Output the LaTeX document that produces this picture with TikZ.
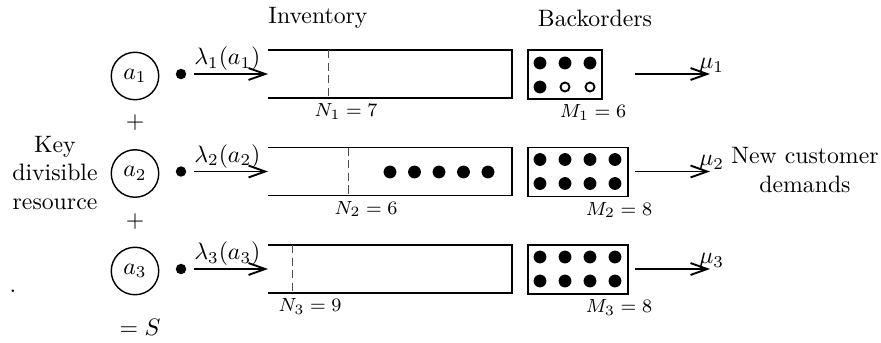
\documentclass[tikz,border=0pt]{standalone}
\usepackage{amsmath,amssymb}
\usetikzlibrary{arrows.meta}

\begin{document}
\begin{tikzpicture}[x=0.0148cm, y=-0.0148cm,
  res/.style={circle, draw, semithick, minimum size=20pt, inner sep=0pt},
  src/.style={circle, fill, inner sep=0pt, minimum size=4.4pt},
  flow/.style={-{Straight Barb[length=7pt,width=5pt]}, thick},
  lbl/.style={font=\footnotesize, inner sep=1pt}]
  \useasboundingbox (0,0) rectangle (881,342);

  % headings
  \node (inv) at (318,18) {Inventory};
  \node (bo) at (595,18) {Backorders};
  \node[align=center] (key) at (55,173) {Key\\divisible\\resource};
  \node[align=center] (new) at (805,170) {New customer\\demands};

  % resource split
  \node[res] (a1) at (135,76) {$a_1$};
  \node[res] (a2) at (135,173.5) {$a_2$};
  \node[res] (a3) at (135,271) {$a_3$};
  \node (p1) at (135,123) {$+$};
  \node (p2) at (135,222) {$+$};
  \node (sum) at (140,327) {$=S$};
  \node (dot) at (13,291) {.};

  % the three lines
  \foreach \i/\y/\n/\dx/\m/\bx in {1/74/7/328/6/602, 2/171.5/6/348/8/628, 3/269/9/292/8/628} {
    \node[src] (s\i) at (181,\y) {};
    \coordinate (in\i) at (268,\y);
    \draw[flow, shorten <=3pt] (s\i) -- node[above, inner sep=1pt] {$\lambda_{\i}(a_{\i})$} (in\i);
    \draw[thick] (268,\y-24) -| (512,\y+24) -- (268,\y+24);
    \draw[thin, black!70, dash pattern=on 3.5pt off 1.8pt] (\dx,\y-24) -- (\dx,\y+24);
    \node[lbl, below] (n\i) at (\dx+18,\y+27) {$N_{\i}=\n$};
    \draw[thick] (528,\y-24) rectangle (\bx,\y+25);
    \node[lbl, below] (m\i) at (\bx-9,\y+28) {$M_{\i}=\m$};
    \coordinate (d\i) at (635,\y);
    \coordinate (e\i) at (710,\y);
    \draw[flow] (d\i) -- (e\i) node[anchor=south west, inner sep=0pt, xshift=-5pt] (mu\i) {$\mu_{\i}$};
  }

  % units on hand
  \foreach \x in {390,414.5,439,463.5,488}
    \fill (\x,172) circle (2.7pt);

  % waiting orders
  \foreach \x in {540,565,590}
    \fill (\x,63) circle (2.7pt);
  \fill (540,87) circle (2.7pt);
  \draw[thick] (565,87) circle (1.9pt) (590,87) circle (1.9pt);
  \foreach \y in {171.5,269}
    \foreach \x in {540,565,590,615} {
      \fill (\x,\y-12) circle (2.7pt);
      \fill (\x,\y+12) circle (2.7pt);
    }
\end{tikzpicture}
\end{document}
